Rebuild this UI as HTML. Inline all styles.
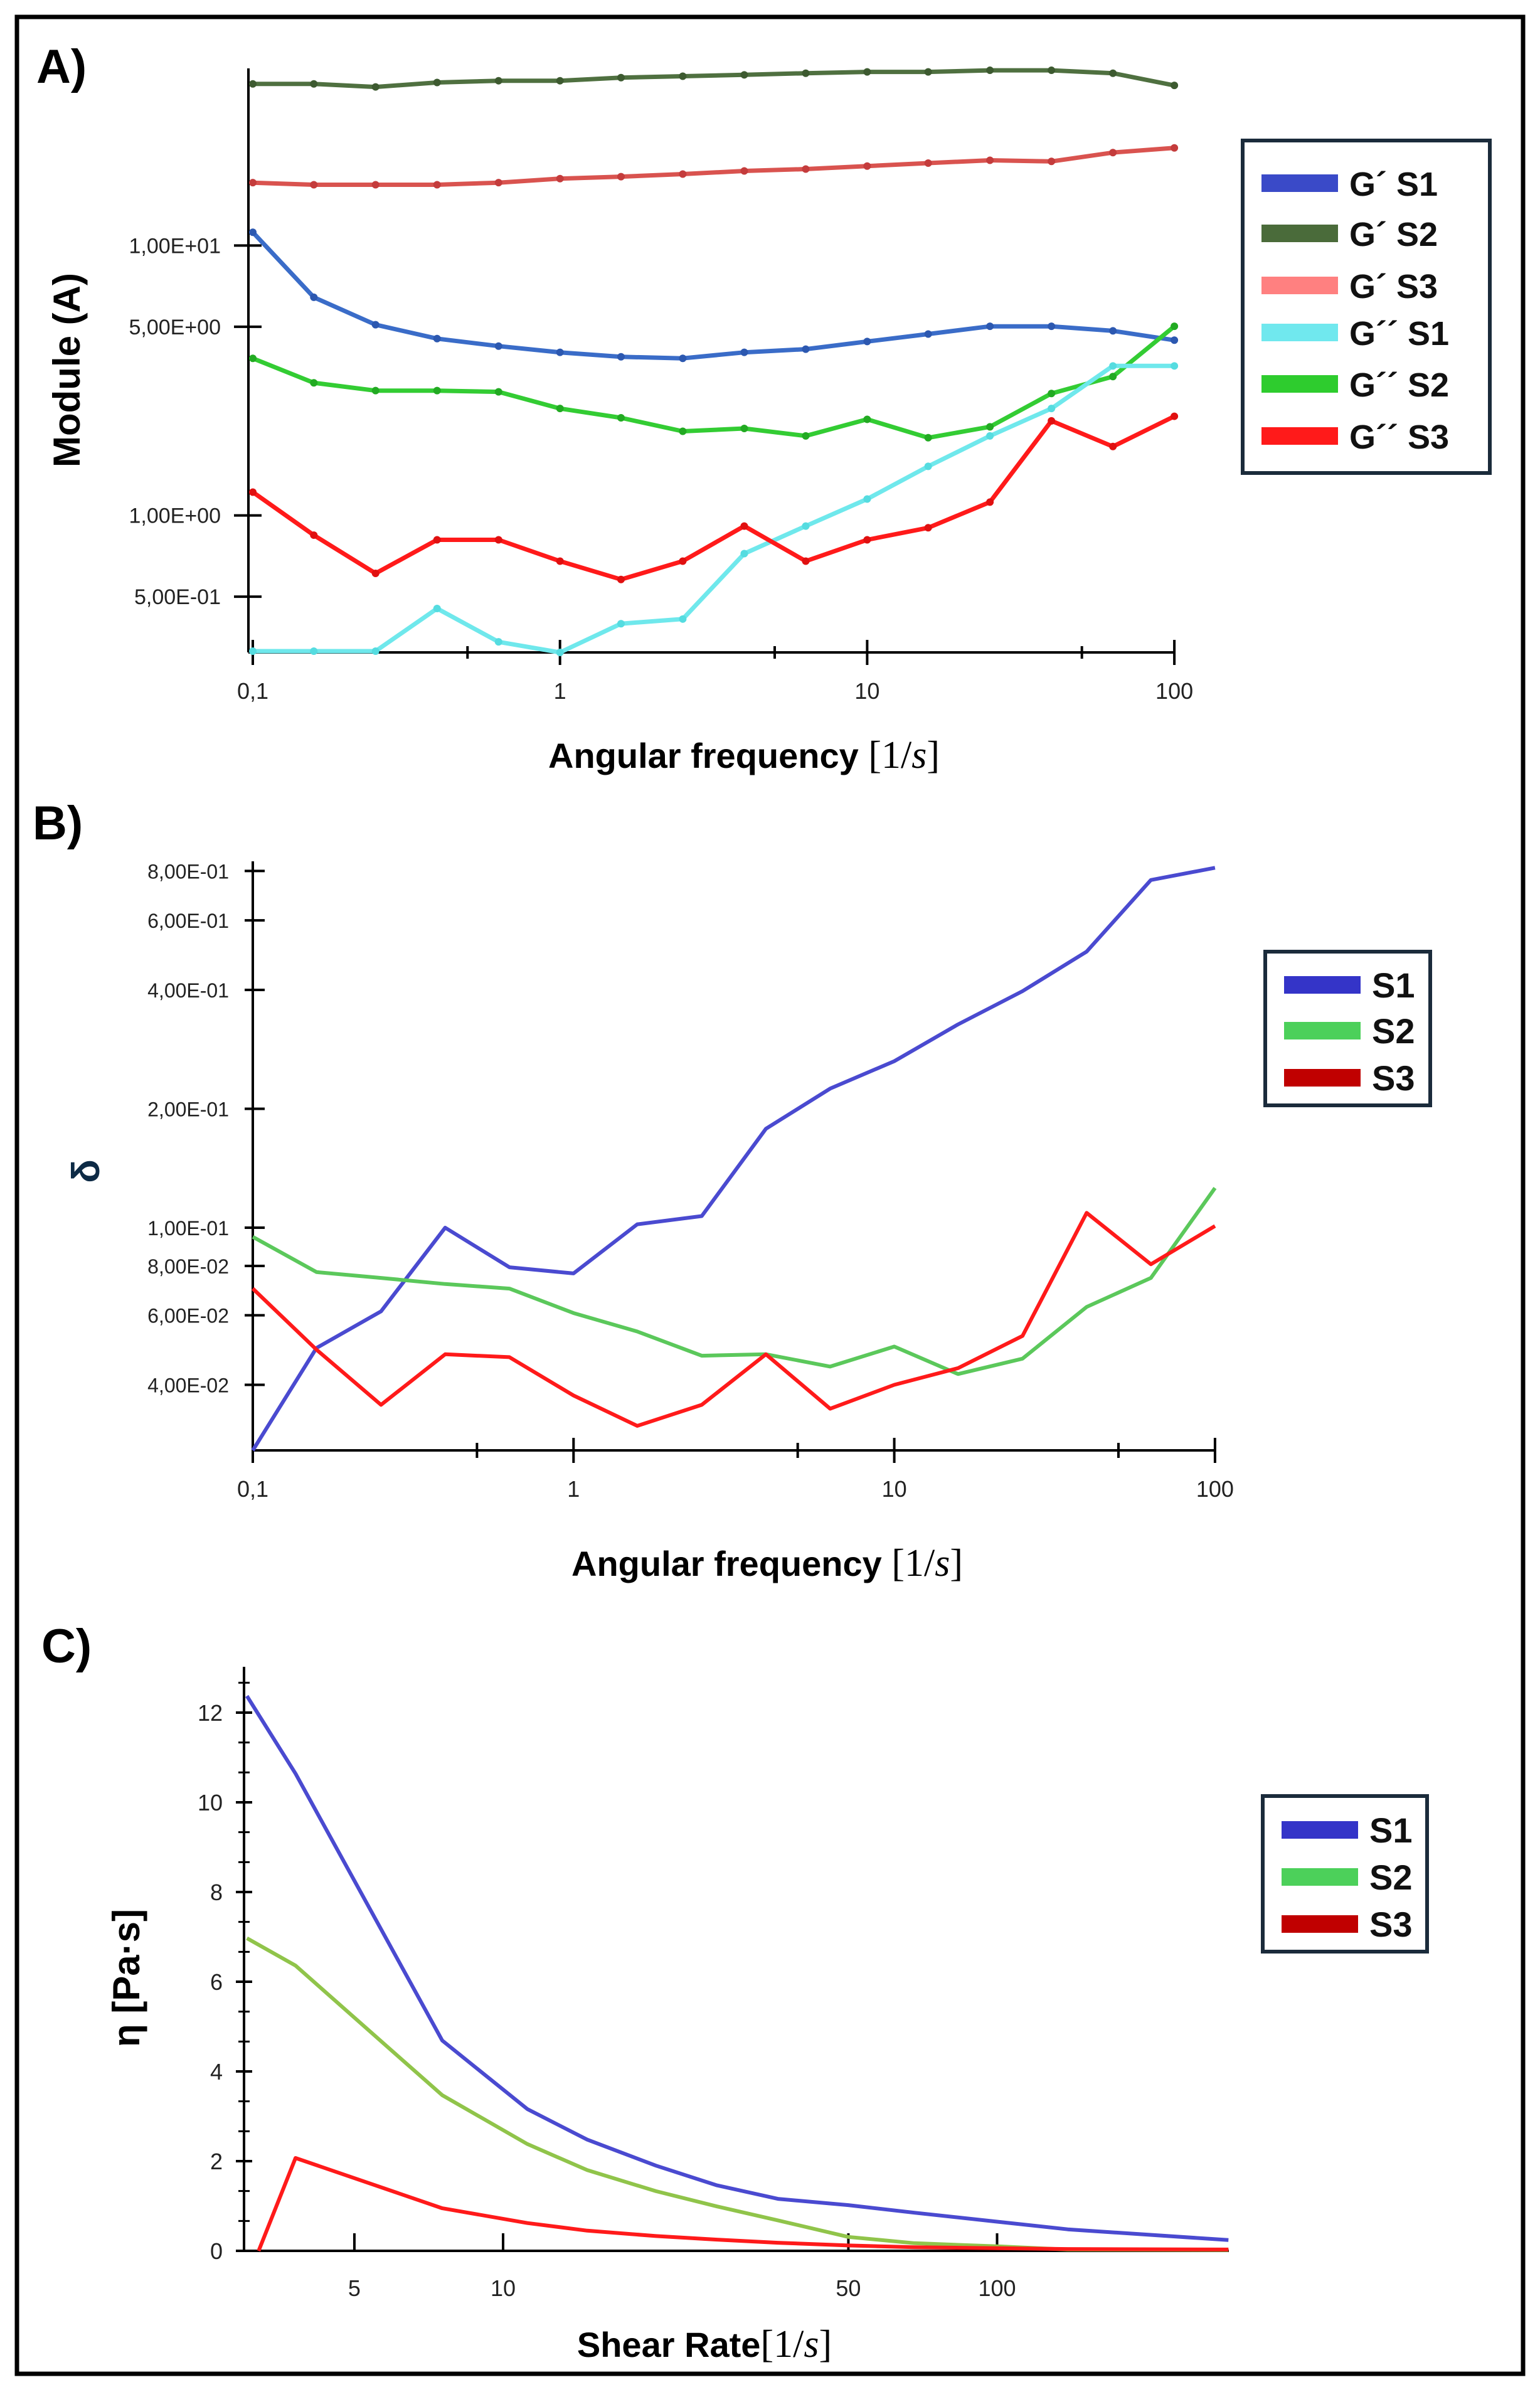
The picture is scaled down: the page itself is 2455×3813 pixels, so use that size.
<!DOCTYPE html>
<html><head><meta charset="utf-8"><style>
html,body{margin:0;padding:0;background:#fff;}
svg{display:block;}
text{font-family:"Liberation Sans",sans-serif;}
</style></head><body>
<svg id="fig" xmlns="http://www.w3.org/2000/svg" width="2455" height="3813" viewBox="0 0 2455 3813">
<rect x="27" y="27" width="2401" height="3757" fill="none" stroke="#000" stroke-width="7"/>
<text x="58" y="132" font-size="76" font-weight="bold">A)</text>
<text x="52" y="1338" font-size="76" font-weight="bold">B)</text>
<text x="66" y="2650" font-size="76" font-weight="bold">C)</text>
<text transform="translate(127,590) rotate(-90)" text-anchor="middle" font-size="60" font-weight="bold">Module (A)</text>
<text x="1186" y="1224" text-anchor="middle" font-size="56" font-weight="bold">Angular frequency <tspan font-family="Liberation Serif" font-weight="normal" font-size="62">[1/<tspan font-style="italic">s</tspan>]</tspan></text>
<text transform="translate(158,1867) rotate(-90)" text-anchor="middle" font-size="62" font-weight="bold" fill="#0d2a45">δ</text>
<text x="1223" y="2512" text-anchor="middle" font-size="56" font-weight="bold">Angular frequency <tspan font-family="Liberation Serif" font-weight="normal" font-size="62">[1/<tspan font-style="italic">s</tspan>]</tspan></text>
<text transform="translate(222,3153) rotate(-90)" text-anchor="middle" font-size="60" font-weight="bold">η [Pa·s]</text>
<text x="1123" y="3757" text-anchor="middle" font-size="56" font-weight="bold">Shear Rate<tspan font-family="Liberation Serif" font-weight="normal" font-size="62">[1/<tspan font-style="italic">s</tspan>]</tspan></text>
<g id="gA"></g>
<g id="gB"></g>
<g id="gC"></g>
</svg>
<script>
// ---------- Panel A data ----------
const freqA = [0.1,0.158,0.251,0.398,0.631,1,1.58,2.51,3.98,6.31,10,15.8,25.1,39.8,63.1,100];
const gpS1 = [11.2,6.43,5.09,4.52,4.24,4.02,3.87,3.82,4.02,4.13,4.41,4.70,5.02,5.02,4.83,4.46];
const gpS2 = [39.7,39.7,38.7,40.2,40.8,40.8,41.9,42.4,42.9,43.5,44.0,44.0,44.6,44.6,43.5,39.2];
const gpS3 = [17.1,16.8,16.8,16.8,17.1,17.7,18.0,18.4,18.9,19.2,19.7,20.2,20.7,20.5,22.1,23.0];
const gppS1 = [0.314,0.314,0.314,0.452,0.340,0.30,0.397,0.413,0.722,0.913,1.15,1.52,1.97,2.49,3.58,3.58];
const gppS2 = [3.82,3.10,2.90,2.90,2.87,2.49,2.30,2.05,2.10,1.97,2.27,1.94,2.13,2.83,3.27,5.02];
const gppS3 = [1.22,0.845,0.61,0.812,0.812,0.677,0.579,0.677,0.913,0.677,0.812,0.90,1.12,2.24,1.80,2.33];
const yTicksA = [10,5,1,0.5];
const yTickLabelsA = ["1,00E+01","5,00E+00","1,00E+00","5,00E-01"];
const xTicksA = [0.1,1,10,100];
const xTickLabelsA = ["0,1","1","10","100"];
const xMinorA = [0.5,5,50];
// ---------- Panel B data ----------
const freqB = [0.1,0.158,0.251,0.398,0.631,1,1.58,2.51,3.98,6.31,10,15.8,25.1,39.8,63.1,100];
const dS1 = [0.0273,0.0496,0.0614,0.100,0.0794,0.0766,0.102,0.107,0.178,0.225,0.264,0.327,0.397,0.500,0.759,0.815];
const dS2 = [0.0948,0.0772,0.0746,0.0720,0.0701,0.0608,0.0546,0.0474,0.0478,0.0445,0.0500,0.0426,0.0466,0.0630,0.0746,0.126];
const dS3 = [0.0701,0.0491,0.0356,0.0478,0.0470,0.0376,0.0315,0.0356,0.0478,0.0348,0.0400,0.0441,0.0532,0.109,0.0808,0.101];
const yTicksB = [0.8,0.6,0.4,0.2,0.1,0.08,0.06,0.04];
const yTickLabelsB = ["8,00E-01","6,00E-01","4,00E-01","2,00E-01","1,00E-01","8,00E-02","6,00E-02","4,00E-02"];
const xTicksB = [0.1,1,10,100];
const xTickLabelsB = ["0,1","1","10","100"];
const xMinorB = [0.5,5,50];
// ---------- Panel C data ----------
const shearC = [3.03,3.8,7.53,11.2,14.8,20.4,27.1,36,50,68,100,139,294];
const etaS1 = [12.37,10.64,4.69,3.16,2.48,1.90,1.46,1.16,1.02,0.85,0.65,0.48,0.24];
const etaS2 = [6.97,6.36,3.47,2.38,1.80,1.33,0.99,0.68,0.31,0.17,0.10,0.03,0.02];
const shearC3 = [3.2,3.8,7.53,11.2,14.8,20.4,27.1,36,50,68,100,139,294];
const etaS3 = [0,2.07,0.95,0.62,0.45,0.33,0.25,0.18,0.12,0.08,0.06,0.04,0.03];
const yTicksC = [0,2,4,6,8,10,12];
const xTicksC = [5,10,50,100];

const NS = "http://www.w3.org/2000/svg";
function mk(tag, parent){ const e = document.createElementNS(NS, tag); parent.appendChild(e); return e; }
const L = Math.log10;

// axis functions
const xA = v => 403 + (L(v)+1)*489.7;
const yA = v => Math.min(1040, 821.6 - L(v)*430.2);
const xB = v => 403 + (L(v)+1)*511.3;
const yB = v => 1957 - (L(v)+1)*629.6;
const xC = v => 802 + (L(v)-1)*787.5;
const yC = v => 3588 - v*71.5;

function line(g, x1,y1,x2,y2,w,name){
  const l = mk('line', g);
  l.setAttribute('x1',x1); l.setAttribute('y1',y1); l.setAttribute('x2',x2); l.setAttribute('y2',y2);
  l.setAttribute('stroke','#000'); l.setAttribute('stroke-width',w);
  
  
  return l;
}
function txt(g, x,y,s,size,anchor,name){
  const t = mk('text', g);
  t.setAttribute('x',x); t.setAttribute('y',y); t.setAttribute('font-size',size);
  t.setAttribute('text-anchor',anchor); t.setAttribute('fill','#222');
  t.textContent = s;
  
  
  return t;
}
function series(g, xs, ys, fx, fy, color, w, name, dotColor){
  const p = mk('polyline', g);
  p.setAttribute('points', xs.map((x,i)=>fx(x).toFixed(1)+','+fy(ys[i]).toFixed(1)).join(' '));
  p.setAttribute('fill','none'); p.setAttribute('stroke',color); p.setAttribute('stroke-width',w);
  p.setAttribute('stroke-linejoin','round');
  
  
  if (dotColor){
    xs.forEach((x,i)=>{
      const c = mk('circle', g);
      c.setAttribute('cx', fx(x)); c.setAttribute('cy', fy(ys[i])); c.setAttribute('r', 6); c.setAttribute('fill', dotColor);
      
      
    });
  }
}
function legend(g, x, y, w, h, entries, rowY, fs, name){
  const r = mk('rect', g);
  r.setAttribute('x',x); r.setAttribute('y',y); r.setAttribute('width',w); r.setAttribute('height',h);
  r.setAttribute('fill','#fff'); r.setAttribute('stroke','#1b2b3b'); r.setAttribute('stroke-width',6);
  
  
  entries.forEach((en,i)=>{
    const s = mk('rect', g);
    s.setAttribute('x', x+30); s.setAttribute('y', rowY[i]-14); s.setAttribute('width', 122); s.setAttribute('height', 28);
    s.setAttribute('fill', en.c);
    
    
    const t = mk('text', g);
    t.setAttribute('x', x+30+122+18); t.setAttribute('y', rowY[i]+20); t.setAttribute('font-size', fs); t.setAttribute('font-weight','bold');
    t.setAttribute('fill','#111');
    t.textContent = en.t;
    
    
  });
}

// ---------- Panel A ----------
const gA = document.getElementById('gA');
line(gA, 396,109,396,1040,4,'a-y-axis');
line(gA, 396,1040,1872,1040,4,'a-x-axis');
yTicksA.forEach((v,i)=>{ line(gA,373,yA(v),417,yA(v),4,'a-y-tick'); txt(gA,352,yA(v)+12,yTickLabelsA[i],34,'end','a-y-tick-label'); });
xTicksA.forEach((v,i)=>{ line(gA,xA(v),1020,xA(v),1060,4,'a-x-tick'); txt(gA,xA(v),1114,xTickLabelsA[i],36,'middle','a-x-tick-label'); });
xMinorA.forEach(v=>{ line(gA,xA(v),1030,xA(v),1050,4,'a-x-minor-tick'); });
series(gA, freqA, gpS2, xA, yA, '#4f7040', 7, 'line-gp-s2', '#3d5a30');
series(gA, freqA, gpS3, xA, yA, '#d9534f', 7, 'line-gp-s3', '#c43c3c');
series(gA, freqA, gpS1, xA, yA, '#3a6cc8', 7, 'line-gp-s1', '#2c58b0');
series(gA, freqA, gppS2, xA, yA, '#33cc33', 7, 'line-gpp-s2', '#22aa22');
series(gA, freqA, gppS1, xA, yA, '#6fe8ec', 7, 'line-gpp-s1', '#55dce0');
series(gA, freqA, gppS3, xA, yA, '#ff1a1a', 7, 'line-gpp-s3', '#e01010');
legend(gA, 1981, 224, 394, 530, [
  {id:'gp-s1', t:'G´  S1', c:'#3a4ac8'},
  {id:'gp-s2', t:'G´  S2', c:'#4a6b3a'},
  {id:'gp-s3', t:'G´  S3', c:'#ff8080'},
  {id:'gpp-s1', t:'G´´ S1', c:'#70e8ee'},
  {id:'gpp-s2', t:'G´´ S2', c:'#2ecc2e'},
  {id:'gpp-s3', t:'G´´ S3', c:'#ff1a1a'}
], [292,372,455,530,612,695], 54, 'panel-a-legend');

// ---------- Panel B ----------
const gB = document.getElementById('gB');
line(gB, 403,1373,403,2312,4,'b-y-axis');
line(gB, 403,2312,1937,2312,4,'b-x-axis');
yTicksB.forEach((v,i)=>{ line(gB,390,yB(v),422,yB(v),4,'b-y-tick'); txt(gB,365,yB(v)+12,yTickLabelsB[i],32,'end','b-y-tick-label'); });
xTicksB.forEach((v,i)=>{ line(gB,xB(v),2292,xB(v),2332,4,'b-x-tick'); txt(gB,xB(v),2386,xTickLabelsB[i],36,'middle','b-x-tick-label'); });
xMinorB.forEach(v=>{ line(gB,xB(v),2300,xB(v),2324,4,'b-x-minor-tick'); });
series(gB, freqB, dS1, xB, yB, '#4a4ad0', 6, 'line-delta-s1');
series(gB, freqB, dS2, xB, yB, '#5bc85b', 6, 'line-delta-s2');
series(gB, freqB, dS3, xB, yB, '#ff1a1a', 6, 'line-delta-s3');
legend(gB, 2017, 1517, 263, 245, [
  {id:'b-s1', t:'S1', c:'#3434c8'},
  {id:'b-s2', t:'S2', c:'#4cd05a'},
  {id:'b-s3', t:'S3', c:'#c00000'}
], [1570,1643,1718], 56, 'panel-b-legend');

// ---------- Panel C ----------
const gC = document.getElementById('gC');
line(gC, 389,2657,389,3588,4,'c-y-axis');
line(gC, 389,3588,1959,3588,4,'c-x-axis');
for (let k=0;k<=19;k++){ const v=k*2/3; line(gC,380,yC(v),398,yC(v),3,'c-y-minor-tick'); }
yTicksC.forEach(v=>{ line(gC,376,yC(v),402,yC(v),4,'c-y-tick'); txt(gC,355,yC(v)+13,String(v),36,'end','c-y-tick-label'); });
xTicksC.forEach(v=>{ line(gC,xC(v),3560,xC(v),3588,4,'c-x-tick'); txt(gC,xC(v),3660,String(v),36,'middle','c-x-tick-label'); });
series(gC, shearC, etaS1, xC, yC, '#4a4ad0', 6, 'line-eta-s1');
series(gC, shearC, etaS2, xC, yC, '#90c44a', 6, 'line-eta-s2');
series(gC, shearC3, etaS3, xC, yC, '#ff1a1a', 6, 'line-eta-s3');
legend(gC, 2013, 2863, 262, 248, [
  {id:'c-s1', t:'S1', c:'#3434c8'},
  {id:'c-s2', t:'S2', c:'#4cd05a'},
  {id:'c-s3', t:'S3', c:'#c00000'}
], [2917,2992,3067], 56, 'panel-c-legend');
</script>
</body></html>
